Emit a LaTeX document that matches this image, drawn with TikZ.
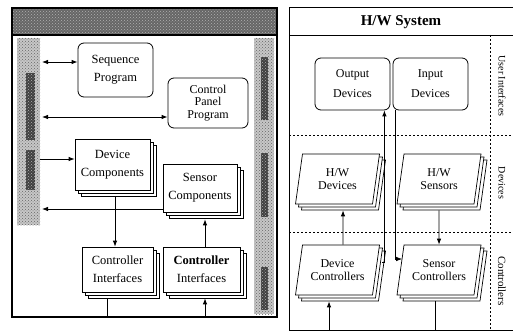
\documentclass[tikz,border=0pt]{standalone}
\usepackage{fontspec}
\setmainfont{Liberation Serif}
\usetikzlibrary{arrows.meta,shapes.geometric,shadows,patterns,calc}

\begin{document}
\begin{tikzpicture}[x=1pt,y=-1pt,
  every node/.style={font=\fontsize{12.5}{18}\selectfont},
  rbox/.style={draw, rounded corners=6pt, fill=white, align=center, inner sep=0pt, line width=0.8pt},
  stack/.style={draw, fill=white, align=center, inner sep=0pt, line width=0.7pt,
    double copy shadow={shadow xshift=3pt, shadow yshift=-3pt, fill=white, draw=black, line width=0.7pt}},
  slab/.style={stack, trapezium, trapezium left angle=72, trapezium right angle=108,
    trapezium stretches body, minimum width=84pt, minimum height=50pt,
    font=\fontsize{12}{13.5}\selectfont},
  arr/.style={-{Latex[length=6pt,width=4.5pt]}, line width=0.8pt},
  darr/.style={{Latex[length=6pt,width=4.5pt]}-{Latex[length=6pt,width=4.5pt]}, line width=0.8pt},
  ln/.style={line width=0.8pt},
  sect/.style={dash pattern=on 2pt off 2pt, line width=0.5pt},
  tag/.style={font=\fontsize{10}{11}\selectfont, rotate=-90},
  grain/.style={pattern=crosshatch dots, pattern color=#1},
  inkblock/.style={fill=black!75, postaction={grain=black!30}}
]
\useasboundingbox (0,0) rectangle (513,331);

% ---------- software side ----------
\fill[black!60] (12,8) rectangle (277,35);
\fill[grain=white!70!black] (12,8) rectangle (277,35);
% side bands with their dark lettering blocks
\fill[black!22] (17,38) rectangle (40,225);
\fill[grain=black!60] (17,38) rectangle (40,225);
\path[inkblock] (26,73) rectangle (35,140);
\path[inkblock] (26,150) rectangle (35,190);
\fill[black!22] (254,38) rectangle (274,314);
\fill[grain=black!60] (254,38) rectangle (274,314);
\path[inkblock] (261,57) rectangle (268,120);
\path[inkblock] (261,153) rectangle (268,217);
\path[inkblock] (261,267) rectangle (268,310);
\draw[line width=1.2pt] (12,8) rectangle (277,317);
\draw[line width=1.2pt] (12,35) -- (277,35);

\node[rbox, minimum width=75pt, minimum height=54pt] (seq) at (115.5,70) {Sequence\\Program};
\node[rbox, minimum width=80pt, minimum height=50pt, font=\fontsize{12}{12.5}\selectfont] (cpp) at (208,103) {Control\\Panel\\Program};
\node[stack, minimum width=75pt, minimum height=51pt] (devc) at (112.5,164.5) {Device\\Components};
\node[stack, minimum width=74pt, minimum height=48pt] (senc) at (200,188) {Sensor\\Components};
\node[stack, minimum width=71pt, minimum height=45pt] (ci1) at (117.5,269.5) {Controller\\Interfaces};
\node[stack, minimum width=77pt, minimum height=45pt] (ci2) at (201.5,269.5) {\textbf{Controller}\\Interfaces};

\coordinate (L1) at (42,62);
\coordinate (L2) at (42,117);
\coordinate (L3) at (40,159);
\coordinate (L4) at (42,209);
\coordinate (B1) at (107,317);
\coordinate (B2) at (205,317);
\draw[darr] (L1) -- (L1 -| seq.west);
\draw[darr] (L2) -- (L2 -| cpp.west);
\draw[arr] (L3) -- (L3 -| devc.west);
\draw[arr] (L4 -| senc.west) -- (L4);
\draw[arr] ($(devc.south)+(2.5,6)$) -- ($(devc.south |- ci1.north)+(2.5,0)$);
\draw[arr] ($(ci2.north)+(3.5,0)$) -- ($(ci2.north |- senc.south)+(3.5,7)$);
\draw[ln] ($(ci1.south -| B1)+(0,6)$) -- (B1);
\draw[arr] (B2) -- ($(ci2.south -| B2)+(0,6)$);

% ---------- hardware side ----------
\draw[line width=1pt] (513,8) -- (289,8) -- (289,330) -- (513,330);
\draw[ln] (289,35) -- (513,35);
\draw[sect] (490,35) -- (490,330);
\draw[sect] (289,135) -- (513,135);
\draw[sect] (289,232) -- (513,232);
\node[font=\fontsize{15}{17}\selectfont\bfseries] (hw) at (401,22) {H/W System};
\node[tag] (tui) at (502,86) {User Interfaces};
\node[tag] (tdv) at (502,183) {Devices};
\node[tag, font=\fontsize{11}{12}\selectfont] (tct) at (502,281) {Controllers};

\node[rbox, minimum width=75pt, minimum height=52pt, font=\fontsize{12}{20}\selectfont] (outd) at (352.5,84) {Output\\Devices};
\node[rbox, minimum width=75pt, minimum height=52pt, font=\fontsize{12}{20}\selectfont] (ind) at (430.5,84) {Input\\Devices};
\node[slab] (hwd) at (337.5,179) {H/W\\Devices};
\node[slab] (hws) at (439,179) {H/W\\Sensors};
\node[slab] (dctl) at (337.5,270) {Device\\Controllers};
\node[slab] (sctl) at (439,270) {Sensor\\Controllers};

\coordinate (B3) at (329,330);
\coordinate (B4) at (435,330);
\draw[arr] (B3) -- ($(dctl.south -| B3)+(0,6)$);
\draw[ln] ($(sctl.south -| B4)+(0,6)$) -- (B4);
\draw[arr] ($(dctl.north)+(5.5,0)$) -- ($(hwd.south)+(5.5,6)$);
\draw[arr] ($(hws.south)+(0,6)$) -- (sctl.north);
\draw[arr] ($(dctl.east)+(6,-8)$) -| ($(outd.south east)+(-6,0)$);
\draw[arr] ($(ind.south west)+(3,0)$) |- ($(sctl.west)+(2,-11)$);
\end{tikzpicture}
\end{document}
